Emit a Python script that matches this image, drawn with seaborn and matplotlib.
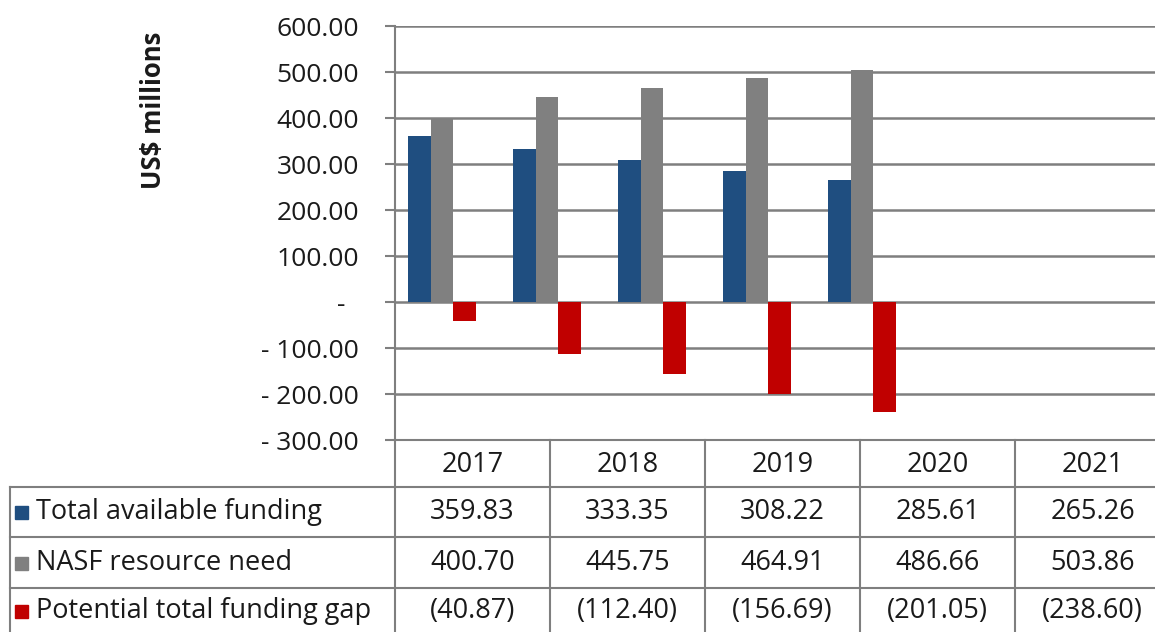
import pandas as pd
import matplotlib.pyplot as plt
import seaborn as sns
from matplotlib.lines import Line2D
from matplotlib.patches import Rectangle
from matplotlib.ticker import FuncFormatter

# Data
years = ["2017", "2018", "2019", "2020", "2021"]
series_names = ["Total available funding", "NASF resource need", "Potential total funding gap"]
total_available = [359.83, 333.35, 308.22, 285.61, 265.26]
nasf_need = [400.70, 445.75, 464.91, 486.66, 503.86]
funding_gap = [-40.87, -112.40, -156.69, -201.05, -238.60]
colors = ["#1F4E80", "#808080", "#C00000"]

df = pd.DataFrame({
    "year": years * 3,
    "series": [series_names[0]] * 5 + [series_names[1]] * 5 + [series_names[2]] * 5,
    "value": total_available + nasf_need + funding_gap,
})

W, H = 1155, 632
fig = plt.figure(figsize=(W / 100, H / 100), dpi=100)
plt.rcParams["font.family"] = ["Open Sans", "DejaVu Sans"]

def fx(px):
    return px / W

def fy(py):
    return 1 - py / H

ax = fig.add_axes([fx(395), fy(440), fx(1155) - fx(395), fy(26) - fy(440)])
sns.barplot(data=df, x="year", y="value", hue="series", palette=colors,
            width=0.65, saturation=1, ax=ax, legend=False)

ax.set_ylim(-300, 600)
ax.set_yticks(range(-300, 601, 100))
ax.set_xlim(-0.448, 6.79)
ax.set_xticks([])
ax.set_xlabel("")
ax.set_ylabel("")

def acct(v, pos):
    if v == 0:
        return "-  "
    if v < 0:
        return "- %.2f" % abs(v)
    return "%.2f" % v

ax.yaxis.set_major_formatter(FuncFormatter(acct))
ax.tick_params(axis="y", length=7, width=1.5, color="#7f7f7f", labelsize=19, pad=19,
               labelcolor="#1a1a1a")
ax.grid(axis="y", color="#7f7f7f", linewidth=1.8)
ax.set_axisbelow(True)
for s in ["top", "right", "bottom"]:
    ax.spines[s].set_visible(False)
ax.spines["left"].set_color("#7f7f7f")
ax.spines["left"].set_linewidth(1.5)

fig.text(fx(154), fy(110), "US$ millions", rotation=90, ha="center", va="center",
         fontsize=18.5, fontweight="bold", color="#1a1a1a")

# Data table below the chart
line_kw = dict(color="#7f7f7f", linewidth=1.5, transform=fig.transFigure)
col_edges = [395, 550, 705, 860, 1015, 1170]
row_edges = [440, 487, 537, 588, 640]

# vertical lines of the year columns
for x in col_edges:
    fig.add_artist(Line2D([fx(x), fx(x)], [fy(440), fy(640)], **line_kw))
# left border of the label column
fig.add_artist(Line2D([fx(10), fx(10)], [fy(487), fy(640)], **line_kw))
# horizontal lines
fig.add_artist(Line2D([fx(395), fx(1155)], [fy(440), fy(440)], **line_kw))
for y in row_edges[1:4]:
    fig.add_artist(Line2D([fx(10), fx(1155)], [fy(y), fy(y)], **line_kw))

txt_kw = dict(fontsize=19.5, color="#1a1a1a", va="center")
for i, yr in enumerate(years):
    cx = (col_edges[i] + col_edges[i + 1]) / 2
    fig.text(fx(cx), fy((row_edges[0] + row_edges[1]) / 2 + 2), yr, ha="center", **txt_kw)

def fmt_cell(v):
    if v < 0:
        return "(%.2f)" % abs(v)
    return "%.2f" % v

rows = [total_available, nasf_need, funding_gap]
for r, (name, vals, c) in enumerate(zip(series_names, rows, colors)):
    top, bot = row_edges[r + 1], row_edges[r + 2]
    cy = (top + bot) / 2 if r < 2 else 611
    fig.add_artist(Rectangle((fx(15), fy(cy + 7)), fx(13), fy(cy - 6) - fy(cy + 7),
                             color=c, transform=fig.transFigure))
    fig.text(fx(36), fy(cy), name, ha="left", **txt_kw)
    for i, v in enumerate(vals):
        cx = (col_edges[i] + col_edges[i + 1]) / 2
        fig.text(fx(cx), fy(cy), fmt_cell(v), ha="center", **txt_kw)

plt.savefig("out.png", dpi=100)
